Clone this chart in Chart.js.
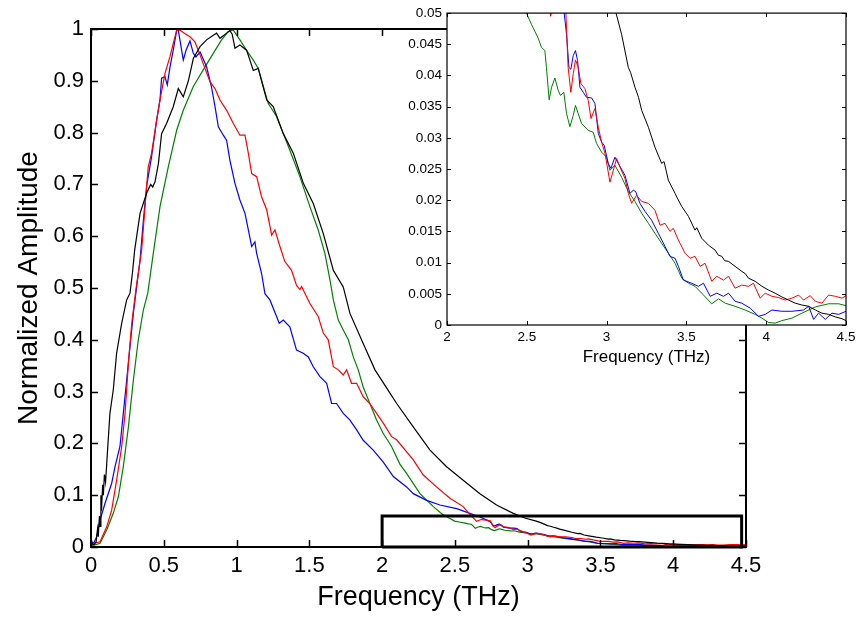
<!DOCTYPE html>
<html>
<head>
<meta charset="utf-8">
<script src="https://cdn.jsdelivr.net/npm/chart.js@4"></script>
<style>
  html, body { margin: 0; padding: 0; background: #fff; }
  #wrap { position: relative; width: 860px; height: 617px; }
  #mainChart { position: absolute; left: 0; top: 0; }
  #insetBox { position: absolute; left: 395px; top: 0; width: 465px; height: 370px; }
</style>
</head>
<body>
<div id="wrap">
  <canvas id="mainChart" width="860" height="617"></canvas>
  <div id="insetBox"><canvas id="insetChart" width="465" height="370"></canvas></div>
</div>
<script>
// Datos (frecuencia en THz, amplitud normalizada)
const blackFreq = [0,0.02,0.035,0.045,0.05,0.058,0.062,0.068,0.072,0.08,0.085,0.092,0.1,0.11,0.13,0.153,0.176,0.211,0.245,0.268,0.285,0.3,0.337,0.382,0.41,0.424,0.44,0.463,0.485,0.52,0.565,0.6,0.634,0.669,0.703,0.749,0.794,0.84,0.863,0.886,0.932,0.954,0.97,0.989,1.023,1.069,1.092,1.115,1.149,1.207,1.252,1.321,1.39,1.459,1.527,1.596,1.665,1.733,1.779,1.87,1.951,2.054,2.1,2.214,2.329,2.443,2.557,2.672,2.786,2.901,2.98,3.059,3.094,3.136,3.15,3.178,3.2,3.22,3.262,3.303,3.345,3.36,3.387,3.429,3.44,3.471,3.513,3.554,3.565,3.596,3.638,3.68,3.7,3.722,3.74,3.764,3.805,3.847,3.87,3.889,3.931,3.973,4.015,4.056,4.098,4.14,4.182,4.224,4.266,4.308,4.349,4.391,4.433,4.475,4.5];
const blackAmp = [0.008,0.004,0.01,0.035,0.02,0.06,0.04,0.1,0.07,0.12,0.1,0.14,0.125,0.17,0.258,0.303,0.374,0.432,0.477,0.49,0.53,0.573,0.644,0.683,0.7,0.695,0.705,0.74,0.798,0.818,0.85,0.885,0.869,0.9,0.943,0.966,0.979,0.988,0.992,0.982,0.992,0.997,0.99,0.963,0.969,0.959,0.94,0.92,0.924,0.863,0.85,0.798,0.76,0.702,0.663,0.605,0.534,0.502,0.451,0.393,0.342,0.297,0.277,0.232,0.187,0.155,0.129,0.103,0.081,0.065,0.056,0.05,0.0466,0.0413,0.0405,0.0381,0.0365,0.0344,0.0317,0.0285,0.0259,0.0262,0.0232,0.0211,0.0205,0.019,0.0174,0.0152,0.0156,0.0139,0.0128,0.012,0.0112,0.011,0.0103,0.0102,0.0094,0.0086,0.0082,0.0075,0.007,0.0062,0.0056,0.0051,0.0045,0.004,0.0035,0.0032,0.003,0.0024,0.0019,0.0017,0.0013,0.001,0.0007];

const blueFreq = [0,0.02,0.039,0.062,0.096,0.142,0.165,0.199,0.222,0.245,0.268,0.291,0.314,0.337,0.36,0.382,0.393,0.416,0.451,0.474,0.485,0.508,0.524,0.543,0.565,0.589,0.598,0.611,0.634,0.653,0.68,0.703,0.721,0.749,0.794,0.828,0.852,0.875,0.909,0.932,0.954,0.989,1.023,1.058,1.081,1.104,1.126,1.138,1.172,1.195,1.229,1.275,1.293,1.321,1.366,1.412,1.458,1.493,1.527,1.573,1.619,1.653,1.687,1.733,1.779,1.825,1.87,1.939,2.008,2.077,2.168,2.214,2.306,2.397,2.512,2.603,2.68,2.734,2.749,2.764,2.776,2.791,2.805,2.818,2.833,2.854,2.874,2.906,2.927,2.948,2.969,2.985,3.01,3.027,3.052,3.073,3.115,3.146,3.167,3.182,3.209,3.241,3.282,3.324,3.366,3.397,3.429,3.45,3.481,3.533,3.575,3.607,3.649,3.69,3.732,3.764,3.805,3.847,3.9,3.952,3.994,4.036,4.098,4.161,4.234,4.266,4.297,4.328,4.37,4.412,4.454,4.5];
const blueAmp = [0.01,0.008,0.02,0.052,0.084,0.123,0.155,0.194,0.258,0.322,0.387,0.451,0.503,0.554,0.631,0.696,0.715,0.753,0.824,0.863,0.905,0.908,0.892,0.927,0.959,0.998,1.0,0.979,0.94,0.959,0.977,0.953,0.946,0.956,0.927,0.888,0.85,0.811,0.795,0.785,0.747,0.702,0.67,0.644,0.612,0.58,0.589,0.567,0.528,0.489,0.477,0.445,0.432,0.438,0.425,0.38,0.374,0.367,0.348,0.329,0.316,0.277,0.277,0.258,0.245,0.226,0.206,0.187,0.164,0.136,0.116,0.103,0.09,0.081,0.074,0.065,0.057,0.05,0.0466,0.0413,0.041,0.0432,0.044,0.0424,0.0381,0.0373,0.0365,0.0364,0.0355,0.0307,0.0293,0.0288,0.0259,0.0251,0.0269,0.0259,0.024,0.0211,0.0216,0.0214,0.0195,0.0182,0.0168,0.0147,0.0126,0.011,0.0107,0.0094,0.0072,0.0067,0.0062,0.0067,0.0046,0.0051,0.0046,0.0051,0.0038,0.0035,0.0027,0.0014,0.0017,0.0024,0.0022,0.0022,0.0024,0.003,0.0009,0.0019,0.0009,0.0019,0.0017,0.0022];

const redFreq = [0,0.016,0.062,0.108,0.142,0.176,0.211,0.234,0.257,0.28,0.31,0.348,0.371,0.393,0.416,0.451,0.474,0.508,0.543,0.565,0.589,0.611,0.646,0.68,0.714,0.749,0.783,0.818,0.852,0.886,0.932,0.977,1.023,1.058,1.081,1.104,1.138,1.172,1.207,1.241,1.264,1.298,1.332,1.378,1.412,1.435,1.447,1.481,1.504,1.561,1.596,1.63,1.665,1.699,1.733,1.756,1.79,1.825,1.87,1.916,1.962,2.008,2.065,2.1,2.214,2.283,2.374,2.466,2.557,2.6,2.649,2.68,2.72,2.745,2.759,2.776,2.791,2.805,2.822,2.839,2.864,2.885,2.902,2.927,2.948,2.969,2.99,3.021,3.042,3.063,3.084,3.115,3.136,3.157,3.188,3.22,3.262,3.303,3.335,3.366,3.397,3.418,3.45,3.492,3.523,3.554,3.586,3.617,3.659,3.69,3.732,3.764,3.805,3.847,3.889,3.92,3.962,3.994,4.036,4.077,4.119,4.161,4.203,4.234,4.276,4.308,4.349,4.391,4.433,4.475,4.5];
const redAmp = [0.005,0.007,0.01,0.039,0.071,0.129,0.194,0.258,0.355,0.432,0.5,0.573,0.657,0.734,0.76,0.824,0.863,0.914,0.947,0.972,0.998,0.998,0.991,0.985,0.975,0.95,0.924,0.898,0.885,0.863,0.843,0.818,0.795,0.795,0.76,0.721,0.715,0.676,0.651,0.602,0.612,0.58,0.551,0.534,0.505,0.497,0.503,0.483,0.47,0.445,0.413,0.4,0.348,0.342,0.332,0.342,0.316,0.316,0.29,0.277,0.258,0.239,0.213,0.207,0.168,0.139,0.116,0.094,0.078,0.064,0.0495,0.053,0.052,0.05,0.0413,0.0373,0.0403,0.0425,0.0413,0.0387,0.0379,0.036,0.0331,0.0347,0.0317,0.0293,0.0275,0.0229,0.0248,0.0267,0.0253,0.0235,0.0211,0.0195,0.0208,0.0198,0.0195,0.0184,0.016,0.0163,0.015,0.0155,0.0136,0.0115,0.0107,0.011,0.0094,0.0099,0.007,0.0078,0.0072,0.0078,0.0059,0.0064,0.0062,0.0067,0.0043,0.0051,0.0046,0.0044,0.004,0.0043,0.0048,0.004,0.0047,0.0038,0.0035,0.0048,0.0046,0.0043,0.0047];

const greenFreq = [0,0.027,0.062,0.108,0.153,0.188,0.222,0.257,0.291,0.325,0.36,0.39,0.428,0.474,0.531,0.589,0.634,0.703,0.771,0.84,0.897,0.943,0.977,1.023,1.069,1.115,1.149,1.184,1.218,1.275,1.321,1.366,1.435,1.504,1.561,1.607,1.642,1.665,1.699,1.733,1.768,1.802,1.836,1.87,1.916,1.962,2.008,2.065,2.122,2.168,2.26,2.352,2.42,2.46,2.498,2.529,2.571,2.592,2.613,2.623,2.64,2.655,2.676,2.697,2.711,2.732,2.749,2.77,2.791,2.805,2.822,2.843,2.885,2.916,2.937,2.969,3.0,3.021,3.052,3.094,3.136,3.178,3.22,3.262,3.303,3.345,3.387,3.429,3.471,3.513,3.554,3.596,3.659,3.701,3.743,3.805,3.868,3.931,3.973,4.015,4.056,4.098,4.161,4.224,4.308,4.391,4.454,4.5];
const greenAmp = [0.003,0.004,0.007,0.033,0.065,0.097,0.155,0.232,0.322,0.4,0.458,0.49,0.567,0.657,0.734,0.805,0.843,0.889,0.921,0.953,0.979,0.995,0.998,0.979,0.959,0.94,0.924,0.889,0.856,0.831,0.798,0.766,0.715,0.657,0.612,0.567,0.515,0.477,0.438,0.419,0.4,0.367,0.342,0.309,0.277,0.245,0.219,0.194,0.16,0.142,0.103,0.078,0.062,0.056,0.05,0.0482,0.046,0.0445,0.044,0.0413,0.0361,0.0381,0.0396,0.0376,0.0368,0.0373,0.0339,0.0318,0.0336,0.0352,0.0339,0.0323,0.0312,0.0309,0.0291,0.0277,0.0269,0.0248,0.0256,0.0237,0.0214,0.0198,0.0179,0.0163,0.0147,0.0131,0.0115,0.0099,0.0075,0.0067,0.0062,0.0051,0.0034,0.0042,0.0035,0.003,0.0024,0.0017,0.0011,0.0004,0.0003,0.0007,0.0011,0.0019,0.0029,0.0034,0.0034,0.0031];

// Recuadro de zoom dibujado en el grafico principal
const zoomBoxFreq = [2, 4.47, 4.47, 2, 2];
const zoomBoxAmp = [0, 0, 0.06, 0.06, 0];

const FONT = "'Liberation Sans', Arial, sans-serif";

function toPoints(xs, ys) {
  return xs.map((x, i) => ({ x: x, y: ys[i] }));
}

function fmt(v) {
  return String(Number(v.toFixed(4)));
}

// Caja estilo MATLAB con marcas hacia adentro
const matlabBox = {
  id: 'matlabBox',
  beforeDraw(chart, args, opts) {
    if (!opts.fill) return;
    const a = chart.chartArea;
    chart.ctx.save();
    chart.ctx.fillStyle = opts.fill;
    chart.ctx.fillRect(a.left, a.top, a.right - a.left, a.bottom - a.top);
    chart.ctx.restore();
  },
  afterDraw(chart, args, opts) {
    const { ctx, chartArea: a, scales } = chart;
    const len = opts.tickLen || 5;
    ctx.save();
    ctx.strokeStyle = '#000';
    ctx.lineWidth = opts.lineWidth || 1;
    ctx.beginPath();
    scales.x.ticks.forEach(t => {
      const px = Math.round(scales.x.getPixelForValue(t.value)) + 0.5;
      ctx.moveTo(px, a.bottom); ctx.lineTo(px, a.bottom - len);
      ctx.moveTo(px, a.top); ctx.lineTo(px, a.top + len);
    });
    scales.y.ticks.forEach(t => {
      const py = Math.round(scales.y.getPixelForValue(t.value)) + 0.5;
      ctx.moveTo(a.left, py); ctx.lineTo(a.left + len, py);
      ctx.moveTo(a.right, py); ctx.lineTo(a.right - len, py);
    });
    ctx.stroke();
    ctx.lineWidth = opts.boxWidth || 1;
    ctx.strokeRect(a.left, a.top, a.right - a.left, a.bottom - a.top);
    ctx.restore();
  }
};

function series(label, xs, ys, color, width) {
  return {
    label: label,
    data: toPoints(xs, ys),
    borderColor: color,
    borderWidth: width,
    pointRadius: 0,
    tension: 0,
    fill: false
  };
}

// Grafico principal
new Chart(document.getElementById('mainChart'), {
  type: 'line',
  data: {
    datasets: [
      {
        label: 'zoom',
        data: toPoints(zoomBoxFreq, zoomBoxAmp),
        borderColor: '#000',
        borderWidth: 3,
        pointRadius: 0,
        tension: 0,
        fill: false,
        clip: false
      },
      series('black', blackFreq, blackAmp, '#000000', 1.2),
      series('red', redFreq, redAmp, '#ff0000', 1.2),
      series('blue', blueFreq, blueAmp, '#0000ff', 1.2),
      series('green', greenFreq, greenAmp, '#008000', 1.2)
    ]
  },
  options: {
    responsive: false,
    animation: false,
    layout: { padding: { left: 0, right: 114, top: 29, bottom: 0 } },
    plugins: {
      legend: { display: false },
      tooltip: { enabled: false },
      matlabBox: { tickLen: 7, lineWidth: 1.5, boxWidth: 2 }
    },
    scales: {
      x: {
        type: 'linear',
        min: 0, max: 4.5,
        grid: { display: false, drawTicks: false },
        border: { display: false },
        ticks: {
          stepSize: 0.5, autoSkip: false, maxRotation: 0, padding: 6,
          color: '#000', font: { family: FONT, size: 22 },
          callback: fmt
        },
        title: {
          display: true, text: 'Frequency (THz)', color: '#000',
          font: { family: FONT, size: 27 }, padding: { top: 0, bottom: 3 }
        },
        afterFit: s => { s.height = 70; }
      },
      y: {
        type: 'linear',
        min: 0, max: 1,
        grid: { display: false, drawTicks: false },
        border: { display: false },
        ticks: {
          stepSize: 0.1, autoSkip: false, padding: 7,
          color: '#000', font: { family: FONT, size: 22 },
          callback: fmt
        },
        title: {
          display: true, text: 'Normalized Amplitude', color: '#000',
          font: { family: FONT, size: 28 }, padding: { top: 12, bottom: 0 }
        },
        afterFit: s => { s.width = 91; }
      }
    }
  },
  plugins: [matlabBox]
});

// Grafico insertado (detalle 2 - 4.5 THz)
new Chart(document.getElementById('insetChart'), {
  type: 'line',
  data: {
    datasets: [
      series('black', blackFreq, blackAmp, '#000000', 1),
      series('red', redFreq, redAmp, '#ff0000', 1),
      series('blue', blueFreq, blueAmp, '#0000ff', 1),
      series('green', greenFreq, greenAmp, '#008000', 1)
    ]
  },
  options: {
    responsive: false,
    animation: false,
    layout: { padding: { left: 0, right: 14, top: 12, bottom: 0 } },
    plugins: {
      legend: { display: false },
      tooltip: { enabled: false },
      matlabBox: { tickLen: 4, lineWidth: 1, boxWidth: 1.2, fill: '#ffffff' }
    },
    scales: {
      x: {
        type: 'linear',
        min: 2, max: 4.5,
        grid: { display: false, drawTicks: false },
        border: { display: false },
        ticks: {
          stepSize: 0.5, autoSkip: false, maxRotation: 0, padding: 4.5,
          color: '#000', font: { family: FONT, size: 13.5 },
          callback: fmt
        },
        title: {
          display: true, text: 'Frequency (THz)', color: '#000',
          font: { family: FONT, size: 17 }, padding: { top: 0, bottom: 2 }
        },
        afterFit: s => { s.height = 45; }
      },
      y: {
        type: 'linear',
        min: 0, max: 0.05,
        grid: { display: false, drawTicks: false },
        border: { display: false },
        ticks: {
          stepSize: 0.005, autoSkip: false, padding: 5,
          color: '#000', font: { family: FONT, size: 13.5 },
          callback: fmt
        },
        afterFit: s => { s.width = 52; }
      }
    }
  },
  plugins: [matlabBox]
});
</script>
</body>
</html>
